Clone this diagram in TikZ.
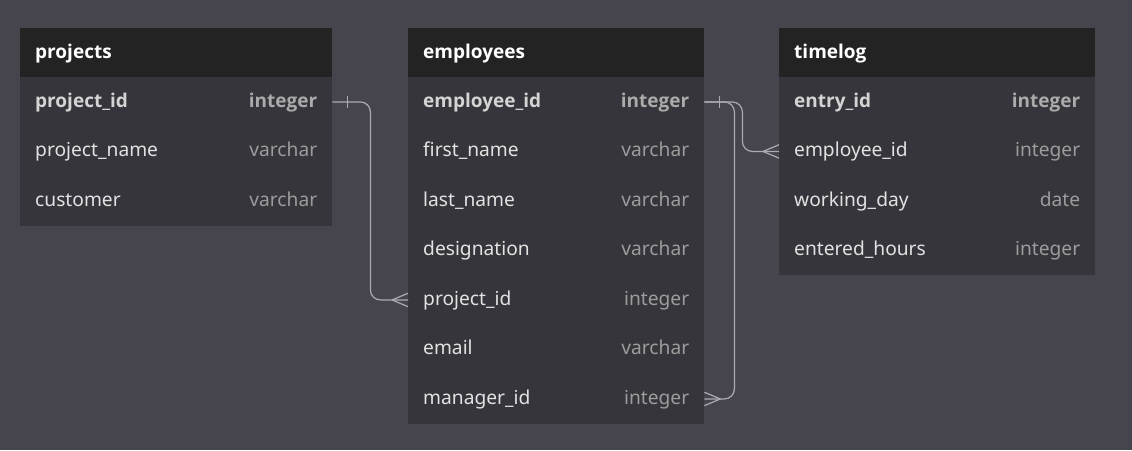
\documentclass[tikz,border=0pt]{standalone}
\usepackage{fontspec}
\setmainfont{Noto Sans}
\newfontfamily\boldsans{Open Sans}
\definecolor{bgc}{HTML}{46454D}
\definecolor{bodyc}{HTML}{35353B}
\definecolor{hdrc}{HTML}{232323}
\definecolor{namec}{HTML}{E2E2E2}
\definecolor{keyc}{HTML}{D4D4D4}
\definecolor{typec}{HTML}{9C9C9C}
\definecolor{keytypec}{HTML}{ABABAB}
\definecolor{linec}{HTML}{ABABB3}
\tikzset{
  hdr/.style={fill=hdrc, draw=none, minimum height=49pt, inner sep=0pt, anchor=north west},
  rowbox/.style={fill=bodyc, draw=none, minimum height=49.5pt, inner sep=0pt, anchor=north west},
  txt/.style={inner sep=0pt, font=\fontsize{19.2}{22}\selectfont},
  title/.style={txt, anchor=base west, text=white, font=\boldsans\fontsize{19}{22}\selectfont\bfseries},
  fname/.style={txt, anchor=base west, text=namec},
  ftype/.style={txt, anchor=base east, text=typec},
  kname/.style={txt, anchor=base west, text=keyc, font=\boldsans\fontsize{19}{22}\selectfont\bfseries},
  ktype/.style={txt, anchor=base east, text=keytypec, font=\boldsans\fontsize{19}{22}\selectfont\bfseries},
  conn/.style={draw=linec, line width=1.2pt},
}
\newcommand\erHead[5]{% name, x, y, width, title
  \node[hdr, minimum width=#4pt] (#1) at (#2,#3) {};
  \node[title] (#1-title) at ([xshift=15pt,yshift=-5.5pt]#1.west) {#5};}
\newcommand\erRow[7]{% name, x, y, width, field, type, key?
  \node[rowbox, minimum width=#4pt] (#1) at (#2,#3) {};
  \ifx#7k
    \node[kname] (#1-n) at ([xshift=15pt,yshift=-5.5pt]#1.west) {#5};
    \node[ktype] (#1-t) at ([xshift=-15pt,yshift=-5.5pt]#1.east) {#6};
  \else
    \node[fname] (#1-n) at ([xshift=15pt,yshift=-5.5pt]#1.west) {#5};
    \node[ftype] (#1-t) at ([xshift=-15pt,yshift=-5.5pt]#1.east) {#6};
  \fi}
\newcommand\crowW[1]{% crow foot entering the west side of node #1
  \draw[conn] ([xshift=-16pt]#1.west) -- ([yshift=6.7pt]#1.west)
              ([xshift=-16pt]#1.west) -- ([yshift=-6.7pt]#1.west);}
\newcommand\crowE[1]{% crow foot entering the east side of node #1
  \draw[conn] ([xshift=16pt]#1.east) -- ([yshift=6.7pt]#1.east)
              ([xshift=16pt]#1.east) -- ([yshift=-6.7pt]#1.east);}
\newcommand\barE[1]{% one-bar on the east side of node #1
  \draw[conn] ([xshift=15pt,yshift=6pt]#1.east) -- ([xshift=15pt,yshift=-6pt]#1.east);}
\begin{document}
\begin{tikzpicture}[x=1pt,y=-1pt]
\fill[bgc] (0,0) rectangle (1132,450);
\useasboundingbox (0,0) rectangle (1132,450);

% projects
\erHead{proj}{20}{28}{312}{projects}
\erRow{proj-1}{20}{77}{312}{project\_id}{integer}{k}
\erRow{proj-2}{20}{126.5}{312}{project\_name}{varchar}{n}
\erRow{proj-3}{20}{176}{312}{customer}{varchar}{n}

% employees
\erHead{emp}{408}{28}{296}{employees}
\erRow{emp-1}{408}{77}{296}{employee\_id}{integer}{k}
\erRow{emp-2}{408}{126.5}{296}{first\_name}{varchar}{n}
\erRow{emp-3}{408}{176}{296}{last\_name}{varchar}{n}
\erRow{emp-4}{408}{225.5}{296}{designation}{varchar}{n}
\erRow{emp-5}{408}{275}{296}{project\_id}{integer}{n}
\erRow{emp-6}{408}{324.5}{296}{email}{varchar}{n}
\erRow{emp-7}{408}{374}{296}{manager\_id}{integer}{n}

% timelog
\erHead{tl}{779}{28}{316}{timelog}
\erRow{tl-1}{779}{77}{316}{entry\_id}{integer}{k}
\erRow{tl-2}{779}{126.5}{316}{employee\_id}{integer}{n}
\erRow{tl-3}{779}{176}{316}{working\_day}{date}{n}
\erRow{tl-4}{779}{225.5}{316}{entered\_hours}{integer}{n}

% connectors
\draw[conn, rounded corners=10pt] (proj-1.east) -| ([xshift=38pt]proj-1.east |- emp-5.west) -- (emp-5.west);
\barE{proj-1}
\crowW{emp-5}

\draw[conn, rounded corners=10pt] (emp-1.east) -| ([xshift=38pt]emp-1.east |- tl-2.west) -- (tl-2.west);
\draw[conn, rounded corners=10pt] (emp-1.east) -| ([xshift=30pt]emp-1.east |- emp-7.east) -- (emp-7.east);
\barE{emp-1}
\crowW{tl-2}
\crowE{emp-7}
\end{tikzpicture}
\end{document}
